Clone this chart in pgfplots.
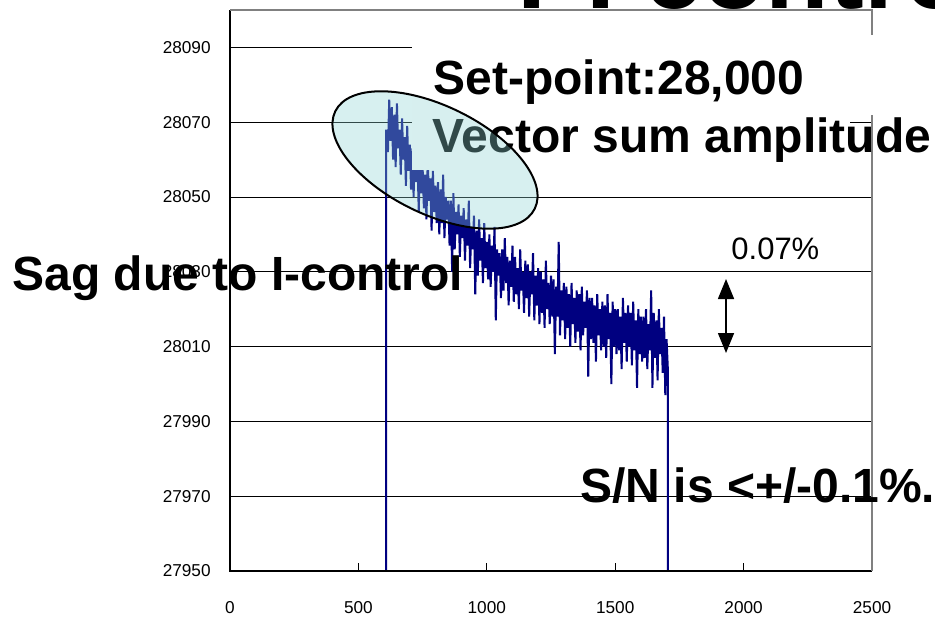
\documentclass[border=0pt]{standalone}
\usepackage{fontspec}
\setmainfont{Liberation Sans}
\usepackage{pgfplots}
\pgfplotsset{compat=1.18}
\usetikzlibrary{arrows.meta}
\definecolor{navyline}{RGB}{0,0,128}
\definecolor{ellfill}{RGB}{141,212,212}
\definecolor{bordergray}{RGB}{128,128,128}
\begin{document}
\begin{tikzpicture}[x=1pt,y=1pt]
\path[use as bounding box] (0,0) rectangle (467.5,309);
\begin{axis}[
  at={(115pt,23.5pt)}, anchor=south west,
  scale only axis, width=321pt, height=280.5pt,
  xmin=0, xmax=2500, ymin=27950, ymax=28100,
  xtick={0,500,...,2500}, ytick={27950,27970,...,28090},
  scaled x ticks=false, scaled y ticks=false,
  ymajorgrids, major grid style={black, line width=0.5pt},
  axis line style={draw=none},
  xtick pos=left, tick align=inside, major tick length=4pt,
  ytick style={draw=none}, xtick style={black, line width=0.5pt},
  /pgf/number format/1000 sep={},
  /pgf/number format/fixed,
  /pgf/number format/precision=0,
  /pgf/number format/assume math mode=true,
  ticklabel style={font=\fontsize{8.6}{10}\selectfont},
  yticklabel style={anchor=east, inner sep=0pt, xshift=-9.5pt},
  xticklabel style={anchor=north, inner sep=0pt, yshift=-15pt},
]
\addplot[navyline, line width=1pt] coordinates {
(608,27900)
(608,28068) (615,28062) (620,28076) (625,28065) (630,28074) (635,28060) (640,28072) (645,28058) (650,28075) (655,28063)
(660,28068) (665,28056) (670,28071) (675,28060) (680,28066) (685,28053) (690,28069) (695,28057) (700,28064) (705,28052)
(710,28063) (715,28050) (720,28066) (725,28054) (730,28060) (735,28046) (740,28062) (745,28051) (750,28058) (755,28047)
(760,28056) (765,28044) (770,28060) (775,28049) (780,28055) (785,28041) (790,28057) (795,28046) (800,28053) (805,28043)
(810,28054) (815,28040) (820,28052) (825,28043) (830,28056) (835,28039) (840,28050) (845,28044) (850,28049) (855,28037)
(860,28049) (865,28030) (870,28051) (875,28036) (880,28046) (885,28040) (890,28048) (895,28034) (900,28045) (905,28039)
(910,28047) (915,28033) (920,28044) (925,28037) (930,28049) (935,28031) (940,28042) (945,28036) (950,28045) (955,28024)
(960,28041) (965,28029) (970,28044) (975,28033) (980,28039) (985,28027) (990,28043) (995,28031) (1000,28038) (1005,28028)
(1010,28040) (1015,28026) (1020,28037) (1025,28030) (1030,28042) (1035,28017) (1040,28036) (1045,28029) (1050,28035) (1055,28023)
(1060,28036) (1065,28025) (1070,28039) (1075,28027) (1080,28034) (1085,28021) (1090,28033) (1095,28026) (1100,28037) (1105,28022)
(1110,28034) (1115,28024) (1120,28031) (1125,28020) (1130,28036) (1135,28025) (1140,28030) (1145,28019) (1150,28033) (1155,28023)
(1160,28032) (1165,28018) (1170,28030) (1175,28024) (1180,28035) (1185,28017) (1190,28029) (1195,28021) (1200,28031) (1205,28016)
(1210,28030) (1215,28019) (1220,28028) (1225,28015) (1230,28033) (1235,28020) (1240,28027) (1245,28016) (1250,28029) (1255,28018)
(1260,28028) (1265,28008) (1270,28026) (1275,28018) (1280,28038) (1285,28013) (1290,28025) (1295,28017) (1300,28027) (1305,28012)
(1310,28026) (1315,28015) (1320,28024) (1325,28010) (1330,28027) (1335,28016) (1340,28023) (1345,28011) (1350,28025) (1355,28014)
(1360,28024) (1365,28009) (1370,28026) (1375,28013) (1380,28022) (1385,28015) (1390,28025) (1395,28002) (1400,28023) (1405,28012)
(1410,28023) (1415,28011) (1420,28021) (1425,28006) (1430,28024) (1435,28013) (1440,28020) (1445,28009) (1450,28022) (1455,28010)
(1460,28021) (1465,28007) (1470,28024) (1475,28012) (1480,28019) (1485,28000) (1490,28022) (1495,28010) (1500,28020) (1505,28008)
(1510,28020) (1515,28009) (1520,28018) (1525,28004) (1530,28023) (1535,28011) (1540,28019) (1545,28006) (1550,28021) (1555,28010)
(1560,28019) (1565,28005) (1570,28022) (1575,28009) (1580,28017) (1585,27999) (1590,28020) (1595,28008) (1600,28018) (1605,28006)
(1610,28018) (1615,28007) (1620,28020) (1625,28004) (1630,28016) (1635,28009) (1640,28025) (1645,27999) (1650,28019) (1655,28007)
(1660,28017) (1665,28001) (1670,28020) (1675,28008) (1680,28015) (1685,28003) (1690,28018) (1695,27997) (1700,28012) (1705,28004)
(1705,27900)
};
\end{axis}
% axis frame
\draw[black, line width=0.75pt] (115,304) -- (115,23.5) -- (436,23.5);
\draw[bordergray, line width=0.75pt] (115,304) -- (436,304) -- (436,23.5);
% white text boxes
\fill[white] (206,251.5) rectangle (470,291.5);
\fill[white] (206,224) rectangle (425,251.5);
% title (cut off at top)
\node[anchor=base west, inner sep=0pt, font=\fontsize{52}{60}\selectfont\bfseries] at (258.5,305) {PI control};
% annotations
\node[anchor=base west, inner sep=0pt, font=\fontsize{24}{28}\selectfont\bfseries] at (216.5,262) {Set-point:28,000};
\node[anchor=base west, inner sep=0pt, font=\fontsize{24}{28}\selectfont\bfseries] at (216,233) {Vector sum amplitude};
\node[anchor=base west, inner sep=0pt, font=\fontsize{24}{28}\selectfont\bfseries] at (6,164) {Sag due to I-control};
\node[anchor=base west, inner sep=0pt, font=\fontsize{24}{28}\selectfont\bfseries] at (290,58) {S/N is <+/-0.1\%.};
\node[anchor=base west, inner sep=0pt, font=\fontsize{15.5}{18}\selectfont] at (365.5,179.5) {0.07\%};
% ellipse
\draw[black, line width=1pt, fill=ellfill, fill opacity=0.35] (217.5,229) ellipse[x radius=55.5, y radius=27, rotate=-26];
% double arrow
\draw[black, line width=0.8pt, {Triangle[length=10pt,width=8pt]}-{Triangle[length=10pt,width=8pt]}] (363,169.5) -- (363,132.5);
\end{tikzpicture}
\end{document}
